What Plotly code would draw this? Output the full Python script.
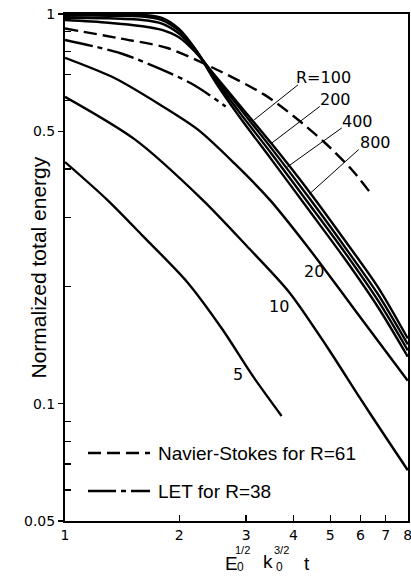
import numpy as np
import plotly.graph_objects as go

# ---- data (x = E0^1/2 k0^3/2 t, y = normalized total energy) ----
r5_x = [1.0, 1.29, 1.6, 2.1, 2.6, 3.12, 3.72]
r5_y = [0.417, 0.334, 0.27, 0.205, 0.155, 0.118, 0.093]

r10_x = [1.0, 1.53, 2.3, 3.0, 3.9, 4.9, 6.0, 7.0, 8.0]
r10_y = [0.613, 0.476, 0.334, 0.255, 0.193, 0.14, 0.103, 0.082, 0.0675]

r20_x = [1.0, 1.35, 1.78, 2.24, 2.8, 3.46, 4.3, 5.3, 6.5, 8.0]
r20_y = [0.772, 0.685, 0.585, 0.505, 0.413, 0.334, 0.257, 0.196, 0.15, 0.1145]

hi_x = [1.0, 1.3, 1.6, 1.8, 2.0, 2.2, 2.5, 2.9, 3.5, 4.4, 5.5, 6.7, 8.0]
r100_y = [0.965, 0.95, 0.93, 0.91, 0.87, 0.80, 0.69, 0.58, 0.465, 0.35, 0.26, 0.198, 0.147]
r200_y = [0.978, 0.975, 0.965, 0.945, 0.89, 0.81, 0.685, 0.57, 0.452, 0.337, 0.25, 0.19, 0.142]
r400_y = [0.99, 0.99, 0.985, 0.965, 0.905, 0.815, 0.675, 0.555, 0.438, 0.325, 0.242, 0.183, 0.137]
r800_y = [1.0, 1.0, 0.995, 0.978, 0.915, 0.815, 0.665, 0.54, 0.423, 0.313, 0.233, 0.176, 0.132]

ns_x = [1.0, 1.4, 1.86, 2.57, 3.35, 4.02, 4.83, 5.69, 6.34]
ns_y = [0.918, 0.865, 0.818, 0.712, 0.621, 0.545, 0.468, 0.399, 0.35]

let_x = [1.0, 1.4, 1.8, 2.14, 2.4, 2.65]
let_y = [0.858, 0.793, 0.72, 0.665, 0.62, 0.579]

x_ticks = [1, 2, 3, 4, 5, 6, 7, 8]
x_ticktext = ["1", "2", "3", "4", "5", "6", "7", "8"]
y_ticks = [0.05, 0.1, 0.5, 1]
y_ticktext = ["0.05", "0.1", "0.5", "1"]
y_minor = [0.06, 0.07, 0.08, 0.09, 0.2, 0.3, 0.4, 0.6, 0.7, 0.8, 0.9]

curve_labels = ["R=100", "200", "400", "800", "20", "10", "5"]
legend_labels = ["Navier-Stokes for R=61", "LET for R=38"]

TXT = "Liberation Sans, Arial, sans-serif"
NUM = "DejaVu Sans, sans-serif"
LW = 2.4

fig = go.Figure()


def curve(x, y, dash="solid", width=LW):
    fig.add_trace(go.Scatter(
        x=x, y=y, mode="lines",
        line=dict(color="black", width=width, dash=dash, shape="spline", smoothing=0.8),
        hoverinfo="skip", showlegend=False))


for yy in (r100_y, r200_y, r400_y, r800_y):
    curve(hi_x, yy)
curve(r20_x, r20_y)
curve(r10_x, r10_y)
curve(r5_x, r5_y)
curve(ns_x, ns_y, dash="13px,6px")
curve(let_x, let_y, dash="28px,5px,5px,5px")

# leader lines from labels to the R=100..800 curves
leaders = [
    ((4.11, 0.658), (3.15, 0.535)),
    ((4.69, 0.579), (3.50, 0.466)),
    ((5.36, 0.510), (3.85, 0.405)),
    ((5.94, 0.449), (4.40, 0.345)),
]
for (a, b) in leaders:
    fig.add_trace(go.Scatter(x=[a[0], b[0]], y=[a[1], b[1]], mode="lines",
                             line=dict(color="black", width=1), hoverinfo="skip",
                             showlegend=False))

label_pos = [(4.79, 0.686), (5.16, 0.603), (5.89, 0.529), (6.58, 0.468),
             (4.54, 0.219), (3.66, 0.178), (2.86, 0.119)]
ann = []
for txt, (xv, yv) in zip(curve_labels, label_pos):
    ann.append(dict(x=np.log10(xv), y=np.log10(yv), xref="x", yref="y", text=txt,
                    showarrow=False, font=dict(family=NUM, size=16, color="black")))


def px2paper(px, py):
    return (px - 65) / 343.0, (521 - py) / 507.0


# manual legend
shapes = []
for lab, dash, py in zip(legend_labels, ["13px,6px", "28px,5px,5px,5px"], [453, 491]):
    x0, y0 = px2paper(88, py)
    x1, _ = px2paper(150, py)
    shapes.append(dict(type="line", xref="paper", yref="paper", x0=x0, x1=x1, y0=y0, y1=y0,
                       line=dict(color="black", width=LW, dash=dash)))
    tx, _ = px2paper(156, py)
    ann.append(dict(x=tx, y=y0, xref="paper", yref="paper", text=lab, xanchor="left",
                    yanchor="middle", showarrow=False,
                    font=dict(family=TXT, size=19, color="black")))

# axis titles
tx, ty = px2paper(24, 268)
ann.append(dict(x=tx, y=ty, xref="paper", yref="paper", text="Normalized total energy",
                textangle=-90, showarrow=False,
                font=dict(family=TXT, size=21, color="black")))
for txt, px, py, sz in [("E", 231, 563, 19), ("1/2", 242, 550, 11), ("0", 240, 567, 12),
                        ("k", 268, 561, 19), ("3/2", 281, 550, 11), ("0", 279, 567, 12),
                        ("t", 307, 563, 19)]:
    xx, yy = px2paper(px, py)
    ann.append(dict(x=xx, y=yy, xref="paper", yref="paper", text=txt, showarrow=False,
                    xanchor="center", yanchor="middle",
                    font=dict(family=TXT, size=sz, color="black")))

fig.update_layout(
    width=411, height=576, template="none",
    margin=dict(l=65, r=3, t=14, b=55, pad=0),
    plot_bgcolor="white", paper_bgcolor="white", showlegend=False,
    annotations=ann, shapes=shapes,
    xaxis=dict(type="log", range=[0, np.log10(8.01)], tickvals=x_ticks, ticktext=x_ticktext,
               ticks="inside", ticklen=6, tickwidth=1.3, tickcolor="black",
               ticklabeloverflow="allow",
               showline=True, linewidth=2, linecolor="black", mirror=True,
               showgrid=False, zeroline=False, automargin=False,
               tickfont=dict(family=NUM, size=14, color="black")),
    yaxis=dict(type="log", range=[np.log10(0.05), 0], tickvals=y_ticks, ticktext=y_ticktext,
               ticks="outside", ticklen=5, tickwidth=1.3, tickcolor="black",
               minor=dict(tickvals=y_minor, ticks="inside", ticklen=6, tickwidth=1.3,
                          tickcolor="black", showgrid=False),
               showline=True, linewidth=2, linecolor="black", mirror=True,
               showgrid=False, zeroline=False, automargin=False,
               tickfont=dict(family=NUM, size=14, color="black")),
)

fig.write_html("out.html", config={"displayModeBar": False, "staticPlot": True},
               post_script="document.body.style.margin='0';document.body.style.overflow='hidden';")
